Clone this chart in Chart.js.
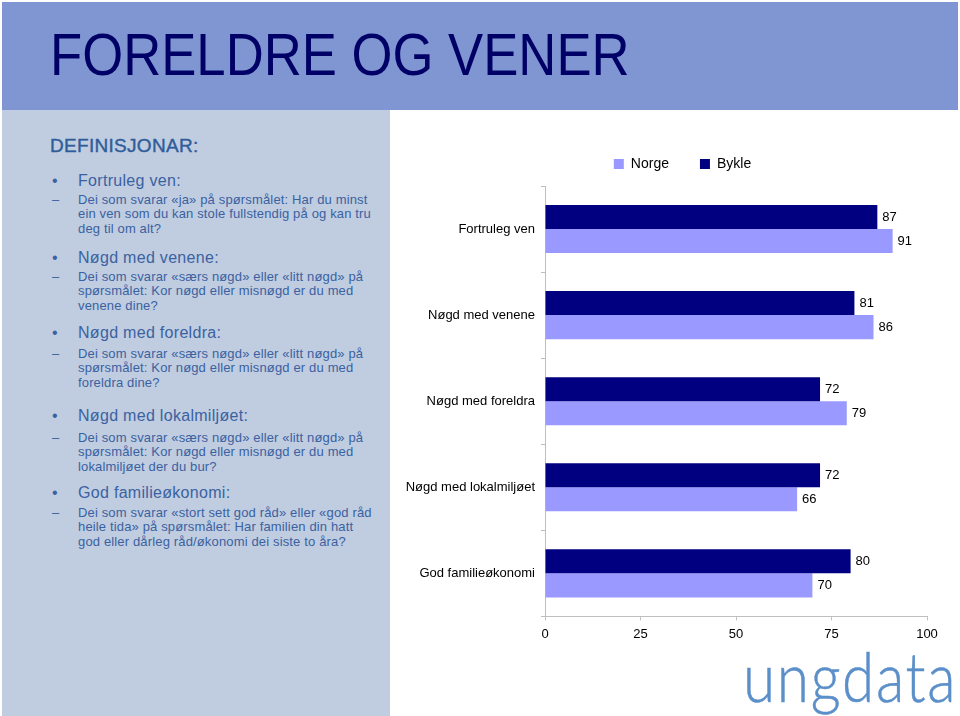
<!DOCTYPE html>
<html>
<head>
<meta charset="utf-8">
<script src="https://cdn.jsdelivr.net/npm/chart.js@4/dist/chart.umd.min.js"></script>
<style>
  html, body { margin: 0; padding: 0; background: #ffffff; }
  body { width: 960px; height: 716px; position: relative; overflow: hidden; font-family: "Liberation Sans", Arial, sans-serif; }
  #band { position: absolute; left: 2px; top: 2px; width: 956px; height: 108px; background: #7f96d2; }
  #title { position: absolute; left: 50px; top: 25px; font-size: 60px; color: #000066; white-space: nowrap; transform: scaleX(0.878); transform-origin: left top; line-height: 1; }
  #panel { position: absolute; left: 2px; top: 110px; width: 388px; height: 606px; background: #c0cce0; }
  #defh { position: absolute; left: 50px; top: 135px; font-size: 19px; color: #2f5d9a; font-weight: normal; letter-spacing: 0.3px; -webkit-text-stroke: 0.4px #2f5d9a; }
  .bul { position: absolute; left: 52px; font-size: 16px; color: #3a62a0; white-space: nowrap; }
  .bul span.m { position: absolute; left: 0; }
  .bul span.t { position: absolute; left: 26px; letter-spacing: 0.3px; }
  .sub { position: absolute; left: 52px; font-size: 13px; line-height: 14.3px; color: #3a62a0; }
  .sub span.m { position: absolute; left: 0; top: 0; }
  .sub div.t { position: absolute; left: 26px; top: 0; width: 300px; white-space: nowrap; letter-spacing: 0.15px; }
  #chartwrap { position: absolute; left: 392px; top: 115px; width: 568px; height: 533px; }
  #logo { position: absolute; left: 743px; top: 642px; font-family: Lato, "Open Sans", sans-serif; font-weight: 300; font-size: 68px; color: #5b8fc9; transform: scaleX(0.86); transform-origin: left top; line-height: 1; white-space: nowrap; letter-spacing: 2px; -webkit-text-stroke: 0.5px #5b8fc9; }
</style>
</head>
<body>
<div id="band"></div>
<div id="title">FORELDRE OG VENER</div>
<div id="panel"></div>
<div id="defh">DEFINISJONAR:</div>

<div class="bul" style="top:172px"><span class="m">•</span><span class="t">Fortruleg ven:</span></div>
<div class="sub" style="top:193px"><span class="m">–</span><div class="t">Dei som svarar «ja» på spørsmålet: Har du minst<br>ein ven som du kan stole fullstendig på og kan tru<br>deg til om alt?</div></div>

<div class="bul" style="top:249px"><span class="m">•</span><span class="t">Nøgd med venene:</span></div>
<div class="sub" style="top:270px"><span class="m">–</span><div class="t">Dei som svarar «særs nøgd» eller «litt nøgd» på<br>spørsmålet: Kor nøgd eller misnøgd er du med<br>venene dine?</div></div>

<div class="bul" style="top:324px"><span class="m">•</span><span class="t">Nøgd med foreldra:</span></div>
<div class="sub" style="top:347px"><span class="m">–</span><div class="t">Dei som svarar «særs nøgd» eller «litt nøgd» på<br>spørsmålet: Kor nøgd eller misnøgd er du med<br>foreldra dine?</div></div>

<div class="bul" style="top:407px"><span class="m">•</span><span class="t">Nøgd med lokalmiljøet:</span></div>
<div class="sub" style="top:431px"><span class="m">–</span><div class="t">Dei som svarar «særs nøgd» eller «litt nøgd» på<br>spørsmålet: Kor nøgd eller misnøgd er du med<br>lokalmiljøet der du bur?</div></div>

<div class="bul" style="top:484px"><span class="m">•</span><span class="t">God familieøkonomi:</span></div>
<div class="sub" style="top:506px"><span class="m">–</span><div class="t">Dei som svarar «stort sett god råd» eller «god råd<br>heile tida» på spørsmålet: Har familien din hatt<br>god eller dårleg råd/økonomi dei siste to åra?</div></div>

<div id="chartwrap"><canvas id="c" width="568" height="533"></canvas></div>
<div id="logo">ungdata</div>

<script>
const categories = ["Fortruleg ven", "Nøgd med venene", "Nøgd med foreldra", "Nøgd med lokalmiljøet", "God familieøkonomi"];
const bykleLabel = "Bykle";
const norgeLabel = "Norge";
const bykleValues = [87, 81, 72, 72, 80];
const norgeValues = [91, 86, 79, 66, 70];
const xTicks = [0, 25, 50, 75, 100];

const valueLabels = {
  id: 'valueLabels',
  afterDatasetsDraw(chart) {
    const ctx = chart.ctx;
    ctx.save();
    ctx.font = '13px "Liberation Sans", Arial, sans-serif';
    ctx.fillStyle = '#000000';
    ctx.textAlign = 'left';
    ctx.textBaseline = 'middle';
    chart.data.datasets.forEach((ds, di) => {
      const meta = chart.getDatasetMeta(di);
      meta.data.forEach((bar, i) => {
        ctx.fillText(String(ds.data[i]), bar.x + 5, bar.y);
      });
    });
    ctx.restore();
  }
};

// place the legend over the slide's chart region rather than the canvas centre
const legendShift = {
  id: 'legendShift',
  afterLayout(chart) {
    const lg = chart.legend;
    if (lg) {
      lg.left += 46;
      lg.top -= 5;
      lg.bottom -= 5;
    }
  }
};

new Chart(document.getElementById('c'), {
  type: 'bar',
  data: {
    labels: categories,
    datasets: [
      { label: bykleLabel, data: bykleValues, backgroundColor: '#000080', borderWidth: 0 },
      { label: norgeLabel, data: norgeValues, backgroundColor: '#9999ff', borderWidth: 0 }
    ]
  },
  options: {
    indexAxis: 'y',
    responsive: false,
    animation: false,
    devicePixelRatio: 1,
    layout: { padding: { top: 16, right: 33, bottom: 0, left: 0 } },
    datasets: { bar: { categoryPercentage: 0.558, barPercentage: 1 } },
    plugins: {
      tooltip: { enabled: false },
      legend: {
        position: 'top',
        reverse: true,
        labels: {
          boxWidth: 10, boxHeight: 10, padding: 31,
          color: '#000000',
          font: { family: '"Liberation Sans", Arial, sans-serif', size: 14 }
        }
      }
    },
    scales: {
      x: {
        min: 0, max: 100,
        afterBuildTicks: (s) => { s.ticks = xTicks.map(v => ({ value: v })); },
        grid: { display: true, drawOnChartArea: false, tickLength: 4, color: '#bfbfbf' },
        border: { display: true, color: '#bfbfbf' },
        ticks: { color: '#000000', padding: 6, font: { family: '"Liberation Sans", Arial, sans-serif', size: 13 } }
      },
      y: {
        afterFit: (s) => { s.width = 153; },
        grid: { display: true, drawOnChartArea: false, offset: true, tickLength: 4, color: '#bfbfbf' },
        border: { display: true, color: '#bfbfbf' },
        ticks: { color: '#000000', padding: 6, font: { family: '"Liberation Sans", Arial, sans-serif', size: 13 } }
      }
    }
  },
  plugins: [valueLabels, legendShift]
});
</script>
</body>
</html>
